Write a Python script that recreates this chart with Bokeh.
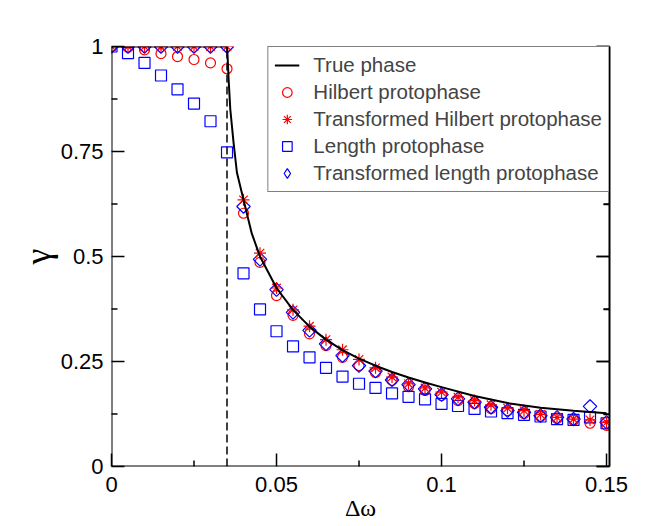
from bokeh.plotting import figure
from bokeh.models import Range1d, LinearAxis, Legend, LegendItem, FixedTicker, Span
from bokeh.embed import file_html
from bokeh.resources import INLINE

# ---------------- data ----------------
delta_omega = [0.0, 0.005, 0.01, 0.015, 0.02, 0.025, 0.03, 0.035, 0.04, 0.045,
               0.05, 0.055, 0.06, 0.065, 0.07, 0.075, 0.08, 0.085, 0.09, 0.095,
               0.1, 0.105, 0.11, 0.115, 0.12, 0.125, 0.13, 0.135, 0.14, 0.145, 0.15]

hilbert = [1.0, 0.998, 0.992, 0.983, 0.976, 0.969, 0.961, 0.947, 0.603, 0.486,
           0.407, 0.36, 0.316, 0.288, 0.26, 0.24, 0.224, 0.205, 0.19, 0.181,
           0.169, 0.157, 0.15, 0.138, 0.133, 0.126, 0.119, 0.114, 0.11, 0.103, 0.098]

trans_hilbert = [1.0, 1.0, 1.0, 1.0, 1.0, 1.0, 1.0, 1.0, 0.635, 0.508,
                 0.425, 0.373, 0.334, 0.302, 0.278, 0.255, 0.235, 0.213, 0.197, 0.187,
                 0.177, 0.165, 0.157, 0.147, 0.139, 0.133, 0.124, 0.117, 0.113, 0.111, 0.105]

length = [1.0, 0.984, 0.961, 0.931, 0.898, 0.864, 0.822, 0.748, 0.46, 0.374,
          0.322, 0.286, 0.26, 0.235, 0.214, 0.197, 0.187, 0.174, 0.166, 0.16,
          0.149, 0.144, 0.137, 0.131, 0.127, 0.123, 0.119, 0.113, 0.111, 0.117, 0.103]

trans_length = [1.0, 1.0, 1.0, 1.0, 1.0, 1.0, 1.0, 1.0, 0.619, 0.493,
                0.421, 0.367, 0.324, 0.292, 0.264, 0.24, 0.227, 0.206, 0.195, 0.185,
                0.171, 0.161, 0.153, 0.141, 0.133, 0.129, 0.121, 0.117, 0.113, 0.143, 0.105]

true_x = [0.0, 0.035, 0.0351, 0.0355, 0.036, 0.037, 0.038, 0.04, 0.0425, 0.045,
          0.05, 0.055, 0.06, 0.065, 0.07, 0.075, 0.08, 0.085, 0.09, 0.095,
          0.1, 0.11, 0.12, 0.13, 0.14, 0.15]
true_y = [1.0, 1.0, 0.99, 0.92, 0.85, 0.77, 0.70, 0.635, 0.555, 0.50,
          0.425, 0.373, 0.333, 0.302, 0.277, 0.257, 0.24, 0.225, 0.212, 0.2,
          0.189, 0.168, 0.151, 0.14, 0.133, 0.127]

eps = 0.035  # locking threshold (dashed line)

x_ticks = [0, 0.05, 0.1, 0.15]
x_tick_labels = ["0", "0.05", "0.1", "0.15"]
x_minor = [0.025, 0.075, 0.125]
y_ticks = [0, 0.25, 0.5, 0.75, 1]
y_tick_labels = ["0", "0.25", "0.5", "0.75", "1"]
y_minor = [0.125, 0.375, 0.625, 0.875]

labels = ["True phase", "Hilbert protophase", "Transformed Hilbert protophase",
          "Length protophase", "Transformed length protophase"]

RED = "#ff0000"
BLUE = "#0000ff"
SANS = "Liberation Sans"
SERIF = "Liberation Serif"

# ---------------- layout ----------------
W, H = 654, 526
BL, BR, BT, BB = 111, 45, 46, 60
X0, X1 = 0.0, 0.1509
Y0, Y1 = 0.0, 1.0
MAJ_PX, MIN_PX = 13, 6
dx_per_px = (X1 - X0) / (W - BL - BR)
dy_per_px = (Y1 - Y0) / (H - BT - BB)

p = figure(width=W, height=H, output_backend="svg", toolbar_location=None,
           x_range=Range1d(X0, X1), y_range=Range1d(Y0, Y1),
           x_axis_location=None, y_axis_location=None,
           min_border_left=BL, min_border_right=BR, min_border_top=BT,
           min_border_bottom=BB)
p.outline_line_color = None
p.grid.visible = False
p.background_fill_color = None
p.border_fill_color = "white"


def label_axis(ticks, labs, label):
    """Axis drawing only the tick labels and the axis title."""
    ax = LinearAxis()
    ax.ticker = FixedTicker(ticks=ticks, minor_ticks=[])
    ax.major_label_overrides = {t: l for t, l in zip(ticks, labs)}
    ax.major_label_text_font = SANS
    ax.major_label_text_font_size = "22px"
    ax.major_label_text_color = "black"
    ax.axis_line_color = None
    ax.major_tick_line_color = None
    ax.minor_tick_line_color = None
    ax.major_tick_in = 0
    ax.major_tick_out = 0
    ax.minor_tick_in = 0
    ax.minor_tick_out = 0
    ax.axis_label = label
    ax.axis_label_text_font = SERIF
    ax.axis_label_text_font_style = "normal"
    ax.axis_label_text_color = "black"
    return ax


xl = label_axis(x_ticks, x_tick_labels, "Δω")
xl.major_label_standoff = 10
xl.axis_label_standoff = 0
xl.axis_label_text_font_size = "24px"
p.add_layout(xl, "below")

yl = label_axis(y_ticks, y_tick_labels, "γ")
yl.major_label_standoff = 8
yl.axis_label_standoff = 0
yl.axis_label_text_font_size = "36px"
p.add_layout(yl, "left")

# right frame edge: axis line
ra = LinearAxis()
ra.ticker = FixedTicker(ticks=y_ticks, minor_ticks=y_minor)
ra.major_label_overrides = {t: "" for t in y_ticks}
ra.major_label_standoff = 0
ra.axis_line_width = 2
ra.axis_line_color = "black"
ra.major_tick_in, ra.major_tick_out = MAJ_PX, 0
ra.minor_tick_in, ra.minor_tick_out = MIN_PX, 0
ra.major_tick_line_width = 1.5
ra.minor_tick_line_width = 1.5
ra.major_tick_line_color = "black"
ra.minor_tick_line_color = "black"
p.add_layout(ra, "right")

# left / bottom frame edges (drawn on top of everything)
p.add_layout(Span(location=X0, dimension="height", line_color="black",
                  line_width=2, level="overlay"))
p.add_layout(Span(location=Y0, dimension="width", line_color="black",
                  line_width=2, level="overlay"))

# inward ticks, built from the tick lists
TICK = dict(line_color="black", line_width=1.5, level="overlay")
for ticks, n in ((y_ticks, MAJ_PX), (y_minor, MIN_PX)):
    p.segment(x0=[X0] * len(ticks), y0=ticks,
              x1=[X0 + n * dx_per_px] * len(ticks), y1=ticks, **TICK)
    p.segment(x0=[X1] * len(ticks), y0=ticks,
              x1=[X1 - n * dx_per_px] * len(ticks), y1=ticks, **TICK)
for ticks, n in ((x_ticks, MAJ_PX), (x_minor, MIN_PX)):
    p.segment(x0=ticks, y0=[Y0] * len(ticks),
              x1=ticks, y1=[Y0 + n * dy_per_px] * len(ticks), **TICK)

# dashed threshold line
p.line([eps, eps], [0, 1.0], line_color="black", line_width=1.5, line_dash="8 4")

r_circ = p.scatter(delta_omega, hilbert, marker="circle", size=10,
                   fill_color=None, line_color=RED, line_width=1.2)
r_sq = p.scatter(delta_omega, length, marker="square", size=11,
                 fill_color=None, line_color=BLUE, line_width=1.2)
r_dia = p.scatter(delta_omega, trans_length, marker="square", angle=0.785398, size=9.5,
                  fill_color=None, line_color=BLUE, line_width=1.2)
r_ast = p.scatter(delta_omega, trans_hilbert, marker="asterisk", size=12,
                  line_color=RED, line_width=1.2)
r_line = p.line(true_x, true_y, line_color="black", line_width=2)
# legend proxy for the diamond symbol (legend ignores marker angle); hidden in plot
r_dia_leg = p.scatter(delta_omega, trans_length, marker="diamond", size=14,
                      fill_color=None, line_color=BLUE, line_width=1.2, visible=False)

legend = Legend(items=[
    LegendItem(label=labels[0], renderers=[r_line]),
    LegendItem(label=labels[1], renderers=[r_circ]),
    LegendItem(label=labels[2], renderers=[r_ast]),
    LegendItem(label=labels[3], renderers=[r_sq]),
    LegendItem(label=labels[4], renderers=[r_dia_leg]),
], location="top_right", margin=0, padding=6, spacing=3,
    glyph_width=25, glyph_height=24, label_height=24, label_standoff=14,
    label_text_font=SANS, label_text_font_size="20.5px",
    border_line_color="black", border_line_width=1.5,
    background_fill_color="white", background_fill_alpha=1.0,
    inactive_fill_alpha=0.0)
p.add_layout(legend, "center")

open("out.html", "w").write(file_html(p, INLINE))
